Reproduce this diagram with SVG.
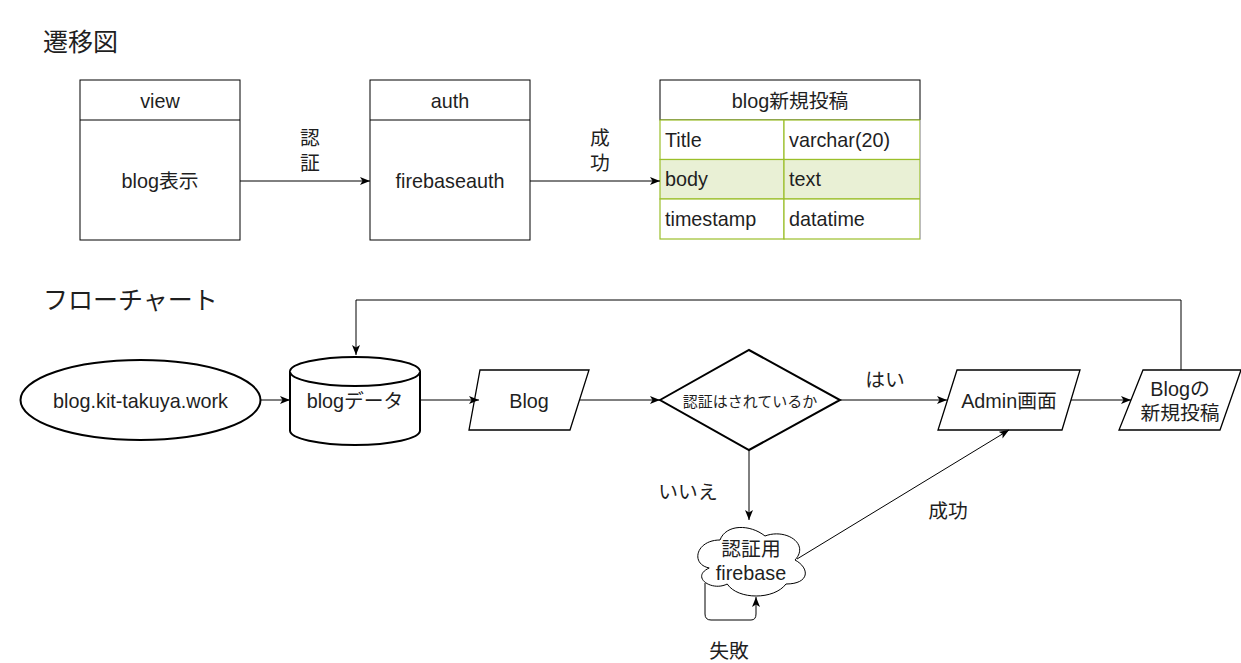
<svg xmlns="http://www.w3.org/2000/svg" width="1241" height="663" viewBox="0 0 1241 663">
<defs>
<marker id="arr" markerUnits="userSpaceOnUse" markerWidth="11" markerHeight="8" refX="10" refY="4" orient="auto">
<path d="M0,0 L10,4 L0,8 L2.5,4 Z" fill="#000"/>
</marker>
<style>
text{font-family:"Liberation Sans","Noto Sans CJK JP",sans-serif;fill:#1f1f1f;font-size:19.8px;}
.c{text-anchor:middle;dominant-baseline:central;}
.l{dominant-baseline:central;}
.t{font-size:25px;}
.box{fill:#fff;stroke:#000;stroke-width:1;}
.thick{fill:#fff;stroke:#000;stroke-width:2;}
.mid{fill:#fff;stroke:#000;stroke-width:1.3;}
.row{fill:#fff;stroke:#9bbf2a;stroke-width:1.2;}
.rowg{fill:#e9f0d5;stroke:#9bbf2a;stroke-width:1.2;}
.edge{fill:none;stroke:#000;stroke-width:1;}
.ea{fill:none;stroke:#000;stroke-width:1;marker-end:url(#arr);}
</style>
</defs>
<rect width="1241" height="663" fill="#fff"/>

<text x="43" y="42" class="l t">遷移図</text>
<text x="43" y="300" class="l t">フローチャート</text>

<g id="view">
<rect x="80" y="80" width="160" height="160" class="box"/>
<line x1="80" y1="120" x2="240" y2="120" stroke="#000"/>
<text x="160" y="101" class="c">view</text>
<text x="160" y="181" class="c">blog表示</text>
</g>
<g id="auth">
<rect x="370" y="80" width="160" height="160" class="box"/>
<line x1="370" y1="120" x2="530" y2="120" stroke="#000"/>
<text x="450" y="101" class="c">auth</text>
<text x="450" y="181" class="c">firebaseauth</text>
</g>
<g id="table">
<rect x="660" y="80" width="260" height="40" class="box"/>
<text x="790" y="101" class="c">blog新規投稿</text>
<rect x="660" y="120" width="124" height="39.5" class="row"/>
<rect x="784" y="120" width="136" height="39.5" class="row"/>
<rect x="660" y="159.5" width="124" height="39.5" class="rowg"/>
<rect x="784" y="159.5" width="136" height="39.5" class="rowg"/>
<rect x="660" y="199" width="124" height="40" class="row"/>
<rect x="784" y="199" width="136" height="40" class="row"/>
<line x1="920.5" y1="120" x2="920.5" y2="239" stroke="#bbb" stroke-width="1"/>
<text x="665" y="140" class="l">Title</text>
<text x="789" y="140" class="l">varchar(20)</text>
<text x="665" y="179" class="l">body</text>
<text x="789" y="179" class="l">text</text>
<text x="665" y="219" class="l">timestamp</text>
<text x="789" y="219" class="l">datatime</text>
</g>

<g id="site">
<ellipse cx="140.5" cy="400" rx="120" ry="40" class="thick"/>
<text x="140.5" y="401" class="c">blog.kit-takuya.work</text>
</g>
<g id="db">
<path d="M290,371.5 L290,430.5 A65,14.5 0 0 0 420,430.5 L420,371.5 A65,14.5 0 0 0 290,371.5 Z" class="thick"/>
<path d="M290,371.5 A65,14.5 0 0 0 420,371.5" class="thick" fill="none"/>
<text x="355" y="401" class="c">blogデータ</text>
</g>
<g id="blog">
<polygon points="480,370 589,370 570,430 469,430" class="mid"/>
<text x="529" y="401" class="c">Blog</text>
</g>
<g id="decision">
<polygon points="660,400 749,350 840,400 749,450" class="thick"/>
<text x="750" y="401" class="c" style="font-size:15px">認証はされているか</text>
</g>
<g id="admin">
<polygon points="957,370 1080,370 1062,430 938,430" class="mid"/>
<text x="1009" y="401" class="c">Admin画面</text>
</g>
<g id="post">
<polygon points="1143,370 1241,370 1220,430 1119,430" class="mid"/>
<text x="1180" y="389" class="c">Blogの</text>
<text x="1180" y="413" class="c">新規投稿</text>
</g>
<g id="cloud">
<path d="M720,540 C696,540 690,564 709.2,568 C690,576.8 711.6,592 727.2,584 C738,600 774,600 786,584 C810,584 810,568 795,560 C810,544 786,528 765,536 C750,524 726,524 720,540 Z" class="box"/>
<text x="751" y="549" class="c">認証用</text>
<text x="751" y="573" class="c">firebase</text>
</g>

<g id="connectors">
<line x1="240" y1="181" x2="370" y2="181" class="ea"/>
<line x1="530" y1="181" x2="660" y2="181" class="ea"/>
<line x1="261" y1="400" x2="290" y2="400" class="ea"/>
<line x1="420" y1="400" x2="479" y2="400" class="ea"/>
<line x1="579" y1="400" x2="660" y2="400" class="ea"/>
<line x1="840" y1="400" x2="947" y2="400" class="ea"/>
<line x1="1071" y1="400" x2="1131" y2="400" class="ea"/>
<polyline points="1181,370 1181,300 356,300 356,355" class="ea"/>
<line x1="749" y1="450" x2="749" y2="520" class="ea"/>
<line x1="797" y1="559" x2="1009" y2="430" class="ea"/>
<path d="M705,583 L705,614 Q705,620 711,620 L751,620 Q756,620 756,614 L756,597" class="ea"/>
</g>
<g id="labels">
<text x="310" y="138" class="c">認</text>
<text x="310" y="163" class="c">証</text>
<text x="600" y="138" class="c">成</text>
<text x="600" y="163" class="c">功</text>
<text x="885" y="380" class="c">はい</text>
<text x="688" y="492" class="c">いいえ</text>
<text x="948" y="511" class="c">成功</text>
<text x="729" y="651" class="c">失敗</text>
</g>
</svg>
